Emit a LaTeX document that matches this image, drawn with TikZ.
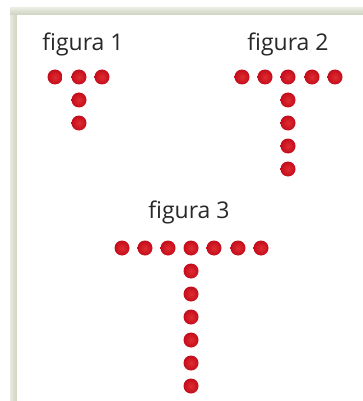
\documentclass[tikz,border=0pt]{standalone}
\usepackage{fontspec}
\setmainfont{Open Sans}
\definecolor{dotred}{RGB}{196,12,26}
\definecolor{dotlight}{RGB}{222,44,50}
\definecolor{framegray}{RGB}{205,210,192}
\definecolor{framelight}{RGB}{232,235,224}
\definecolor{txtgray}{RGB}{40,40,40}
\begin{document}
\begin{tikzpicture}[x=1pt,y=-1pt,
  dotnode/.style={circle,inner sep=0pt,minimum size=15pt,draw=none,inner color=dotlight,outer color=dotred},
  lbl/.style={anchor=base,text=txtgray,inner sep=0pt,font=\fontsize{23}{27}\selectfont}]
\useasboundingbox (0,0) rectangle (363,401);
\fill[white] (0,0) rectangle (363,401);
% frame
\shade[left color=framelight,right color=framegray] (10,8) rectangle (17,401);
\shade[top color=framelight,bottom color=framegray] (10,8) rectangle (363,15);
\fill[white] (17,15) rectangle (363,401);
% labels
\node[lbl] (l1) at (83,51) {figura 1};
\node[lbl] (l2) at (288,51) {figura 2};
\node[lbl] (l3) at (189,218) {figura 3};
% figure 1
\foreach \i/\x in {1/55,2/79,3/102} \node[dotnode] (a\i) at (\x,77) {};
\foreach \i/\y in {1/100,2/123} \node[dotnode] (av\i) at (79,\y) {};
% figure 2
\foreach \i/\x in {1/242,2/265,3/288,4/312,5/335} \node[dotnode] (b\i) at (\x,77) {};
\foreach \i/\y in {1/100,2/123,3/146,4/169} \node[dotnode] (bv\i) at (288,\y) {};
% figure 3
\foreach \i/\x in {1/122,2/145,3/168,4/191,5/214,6/238,7/261} \node[dotnode] (c\i) at (\x,248) {};
\foreach \i/\y in {1/271,2/294,3/317,4/340,5/363,6/386} \node[dotnode] (cv\i) at (191,\y) {};
\end{tikzpicture}
\end{document}
